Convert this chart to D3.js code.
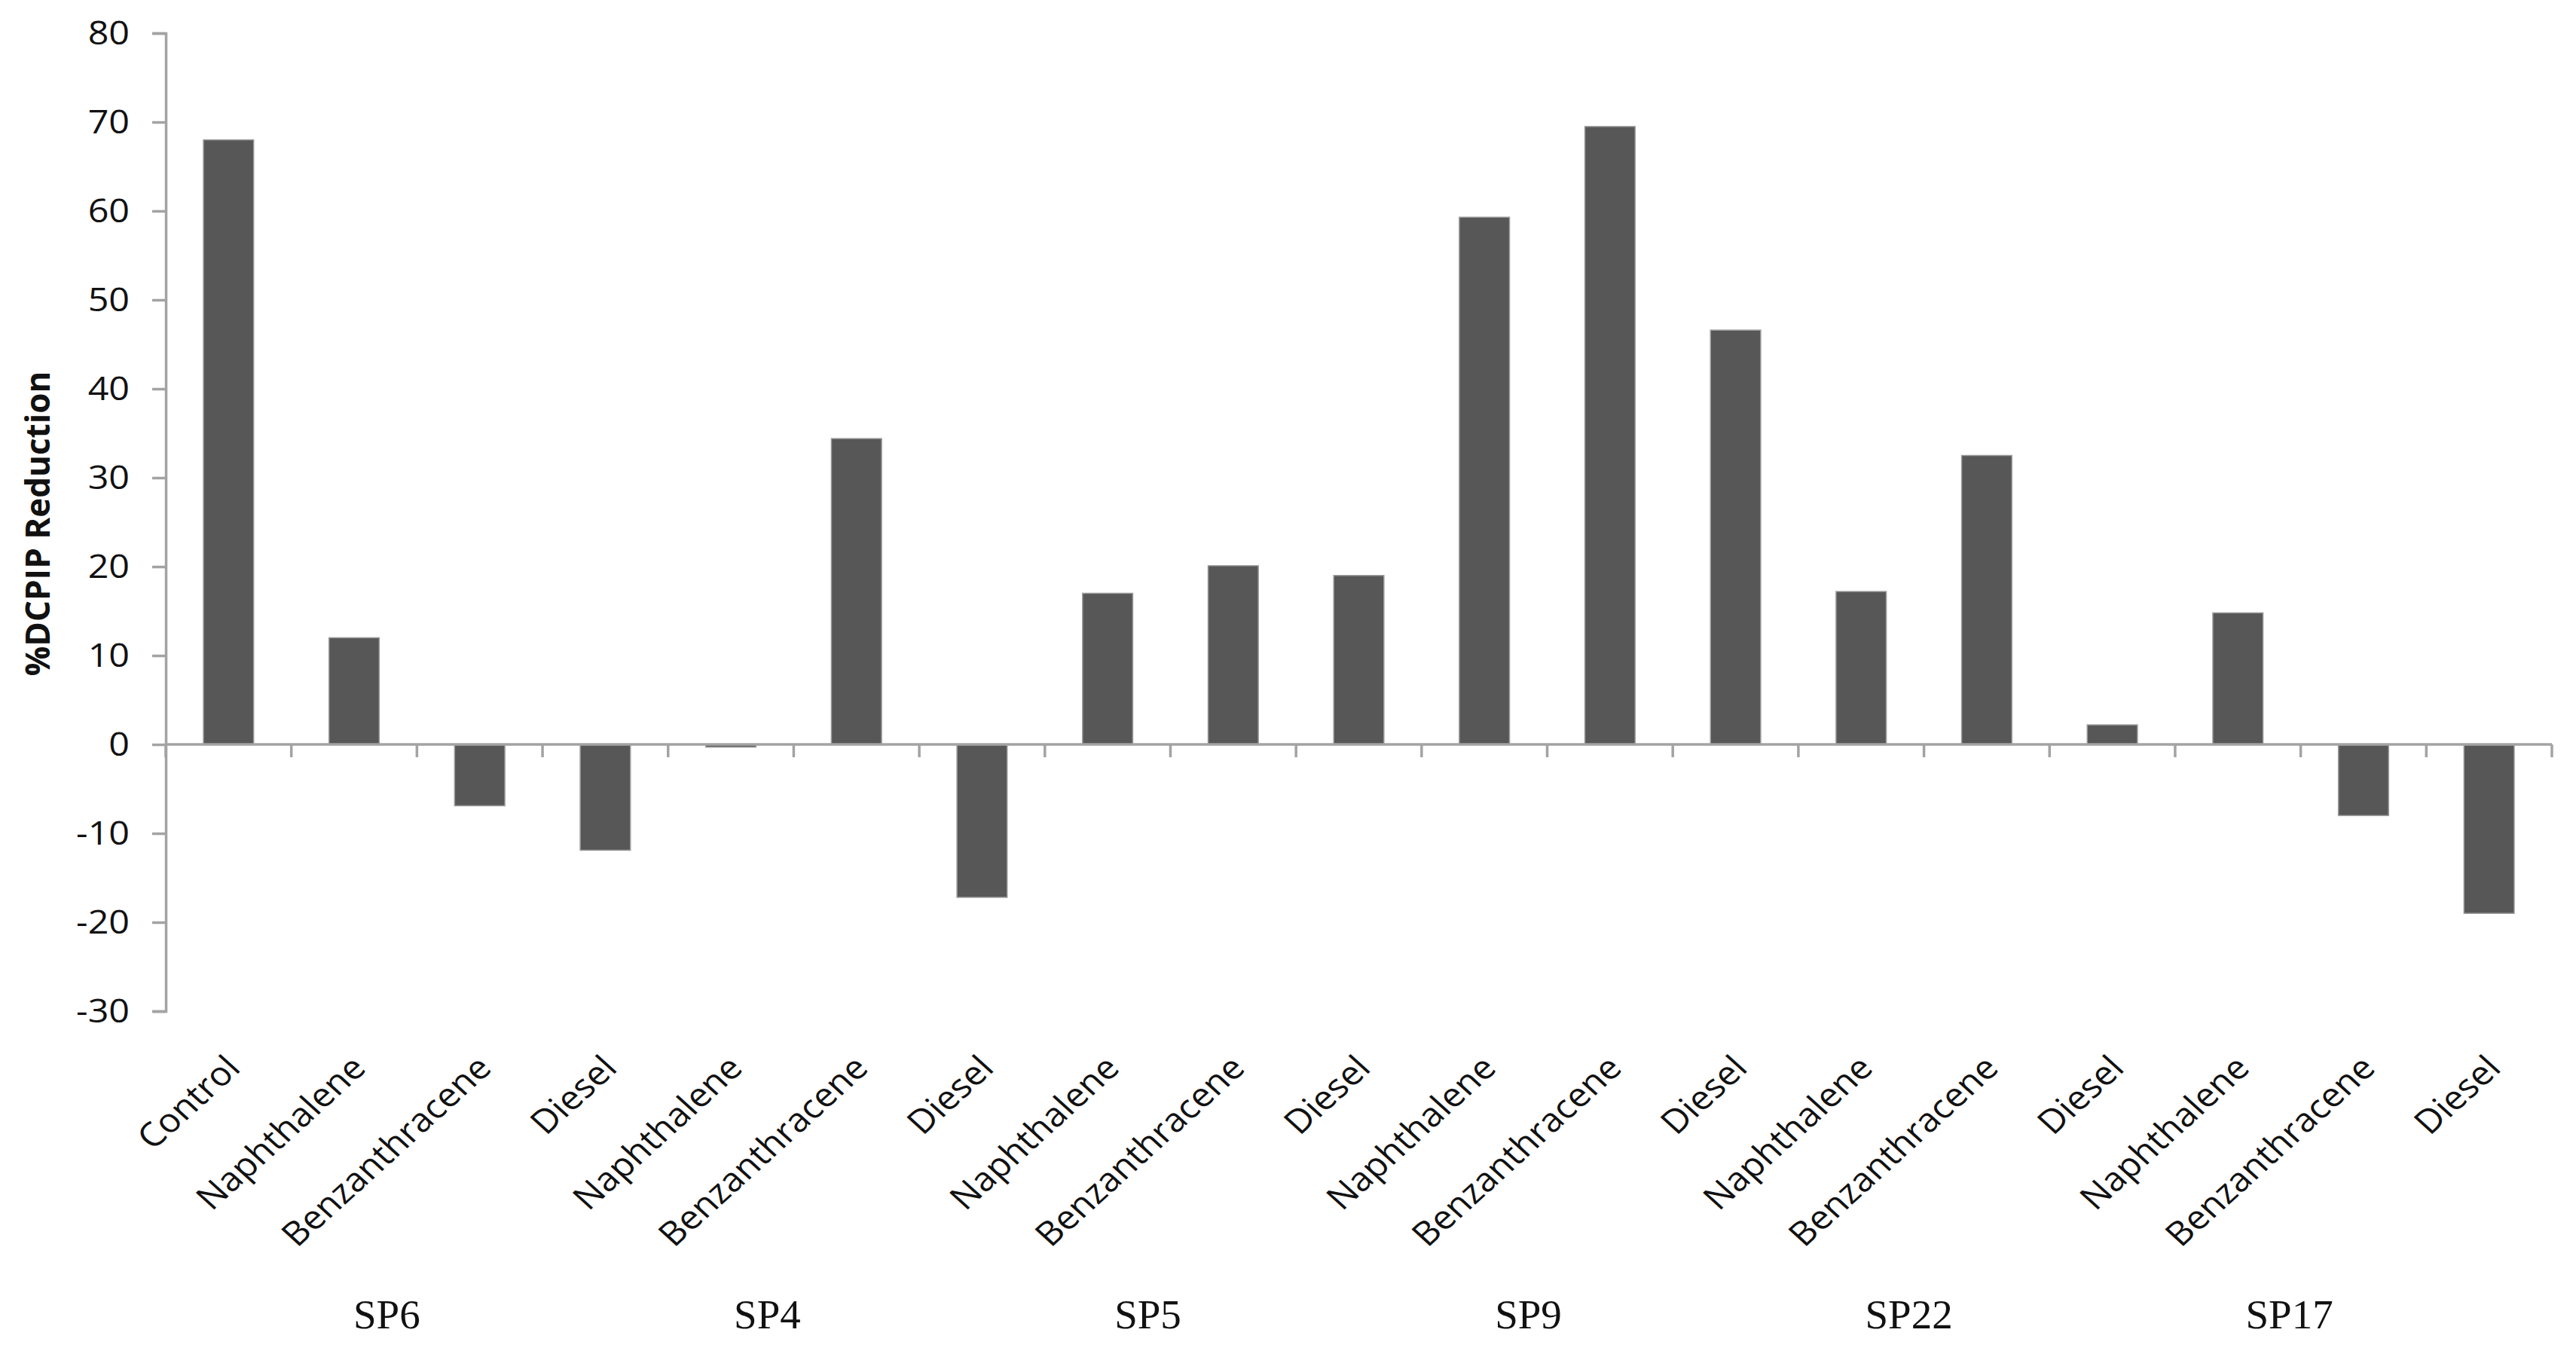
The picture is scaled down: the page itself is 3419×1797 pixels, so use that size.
<!DOCTYPE html>
<html>
<head>
<meta charset="utf-8">
<script src="https://cdn.jsdelivr.net/npm/d3@7"></script>
<style>
    body { margin: 0; background: #fff; }
    svg { display: block; }
    .tick-label { font-family: "Open Sans", sans-serif; fill: #111; }
    .group-label { font-family: "Liberation Serif", "Times New Roman", serif; fill: #111; }
</style>
</head>
<body>
<svg id="chart" width="3419" height="1797"></svg>
<script>
// categories along the x axis, in order
const categories = ['Control', 'Naphthalene', 'Benzanthracene', 'Diesel',
    'Naphthalene', 'Benzanthracene', 'Diesel',
    'Naphthalene', 'Benzanthracene', 'Diesel',
    'Naphthalene', 'Benzanthracene', 'Diesel',
    'Naphthalene', 'Benzanthracene', 'Diesel',
    'Naphthalene', 'Benzanthracene', 'Diesel'];

// %DCPIP reduction per category
const values = [68, 12, -6.9, -11.9,
    -0.3, 34.4, -17.2,
    17, 20.1, 19,
    59.3, 69.5, 46.6,
    17.2, 32.5, 2.2,
    14.8, -8, -19];

// strain labels under each block of three categories
const groups = ['SP6', 'SP4', 'SP5', 'SP9', 'SP22', 'SP17'];
const groupMiddle = [2, 5, 8, 11, 14, 17];

const yTicks = [-30, -20, -10, 0, 10, 20, 30, 40, 50, 60, 70, 80];

const svg = d3.select('#chart');

const x = d3.scaleBand()
    .domain(d3.range(categories.length))
    .range([220, 3387])
    .paddingInner(0.6)
    .paddingOuter(0.3);

const y = d3.scaleLinear()
    .domain([-30, 80])
    .range([1342, 44]);

const axisColor = '#a3a3a3';
const step = x.step();
const left = x.range()[0];
// the source picture is a little wider than tall, so text is stretched
const stretch = 1.1;

// bars
svg.append('g')
    .selectAll('rect')
    .data(values)
    .join('rect')
    .attr('x', (d, i) => x(i))
    .attr('width', x.bandwidth())
    .attr('y', d => y(Math.max(0, d)))
    .attr('height', d => Math.abs(y(d) - y(0)))
    .attr('fill', '#575757')
    .attr('stroke', '#9c9c9c')
    .attr('stroke-width', 1.5);

// y axis
const yAxis = svg.append('g')
    .attr('transform', 'translate(' + left + ',0)')
    .call(d3.axisLeft(y).tickValues(yTicks).tickSize(18).tickPadding(30).tickFormat(d => String(d)));

yAxis.attr('font-family', null).attr('font-size', null);
yAxis.select('.domain').attr('stroke', axisColor).attr('stroke-width', 3.5);
yAxis.selectAll('.tick line').attr('stroke', axisColor).attr('stroke-width', 3.5);
yAxis.selectAll('.tick text')
    .attr('class', 'tick-label')
    .style('font-size', '44px')
    .attr('fill', '#111')
    .attr('x', -48 / stretch)
    .attr('transform', 'scale(' + stretch + ',1)');

// x axis along zero, ticks on category boundaries
const xAxis = svg.append('g');
xAxis.append('line')
    .attr('x1', left)
    .attr('x2', x.range()[1])
    .attr('y1', y(0))
    .attr('y2', y(0))
    .attr('stroke', axisColor)
    .attr('stroke-width', 3.5);

xAxis.selectAll('.xtick')
    .data(d3.range(categories.length + 1))
    .join('line')
    .classed('xtick', true)
    .attr('x1', i => left + i * step)
    .attr('x2', i => left + i * step)
    .attr('y1', y(0))
    .attr('y2', y(0) + 17)
    .attr('stroke', axisColor)
    .attr('stroke-width', 3.5);

// rotated category labels
svg.append('g')
    .selectAll('text')
    .data(categories)
    .join('text')
    .attr('class', 'tick-label')
    .attr('text-anchor', 'end')
    .style('font-size', '44px')
    .attr('transform', (d, i) => 'translate(' + (x(i) + x.bandwidth() / 2 + 18) + ',1420) scale(' + stretch + ',1) rotate(-45)')
    .text(d => d);

// strain labels
svg.append('g')
    .selectAll('text')
    .data(groups)
    .join('text')
    .attr('class', 'group-label')
    .attr('text-anchor', 'middle')
    .style('font-size', '55px')
    .attr('x', (d, i) => x(groupMiddle[i]) + x.bandwidth() / 2 - 0.74 * step + i * 5)
    .attr('y', 1763)
    .text(d => d);

// y axis title
svg.append('text')
    .attr('transform', 'translate(66,695) rotate(-90)')
    .attr('text-anchor', 'middle')
    .style('font-family', '"Open Sans", sans-serif')
    .style('font-weight', 'bold')
    .style('font-size', '44px')
    .attr('fill', '#111')
    .text('%DCPIP Reduction');
</script>
</body>
</html>
